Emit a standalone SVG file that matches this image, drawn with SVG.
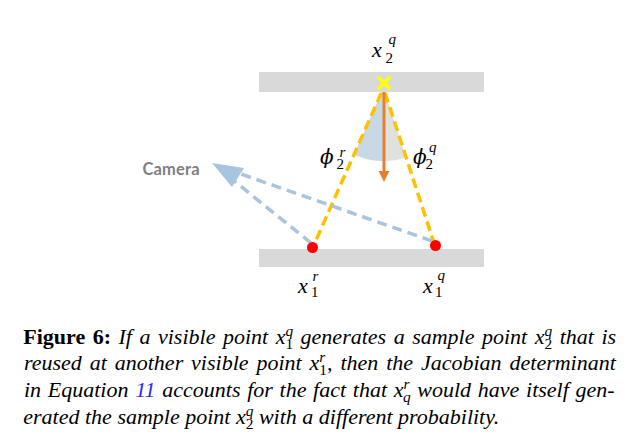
<svg xmlns="http://www.w3.org/2000/svg" width="636" height="441" viewBox="0 0 636 441">
<style>
.bar{fill:#D9D9D9}
.ylw{fill:none;stroke:#FFC000;stroke-width:3.5;stroke-dasharray:10 5}
.blu{fill:none;stroke:#A9C4DE;stroke-width:3.5;stroke-dasharray:10 6}
.m{font-family:"Liberation Serif","Times New Roman",serif;font-style:italic;fill:#000}
.mb{font-size:22px}
.ph{font-family:"DejaVu Serif",serif;font-size:20px}
.ms{font-size:15px}
.md{font-size:15px;font-style:normal}
.cap{font-family:"Liberation Serif","Times New Roman",serif;font-style:italic;font-size:22px;fill:#000}
.s{font-size:15.4px}
.d{font-size:15.4px;font-style:normal}
</style>
<rect width="636" height="441" fill="#fff"/>

<g id="angle">
<path d="M383.5 88 L354 154.7 A73 73 0 0 0 383.5 161 Z" fill="#C8D9E6"/>
<path d="M383.5 88 L383.5 161 A73 73 0 0 0 406.1 157.4 Z" fill="#DDE2DF"/>
</g>
<g id="surface-top"><rect class="bar" x="259" y="72" width="225" height="20"/></g>
<g id="surface-bottom"><rect class="bar" x="259" y="249" width="225" height="18"/></g>

<g id="connectors">
<line class="ylw" x1="381.3" y1="93" x2="313" y2="247"/>
<line class="ylw" x1="385.1" y1="93" x2="435" y2="246"/>
<line x1="384" y1="92" x2="384" y2="172" stroke="#E5802E" stroke-width="3"/>
<polygon points="378.5,171 389.5,171 384,182" fill="#E5802E"/>
<line class="blu" x1="311" y1="243" x2="233" y2="180"/>
<line class="blu" x1="432" y1="241" x2="238" y2="173"/>
<polygon points="212,163 244,168 232,187" fill="#A9C4DE"/>
</g>

<g id="sample-x2q">
<path d="M379 78 L389 88 M389 78 L379 88" stroke="#FFFF00" stroke-width="3.5" stroke-linecap="square"/>
</g>
<g id="point-x1r"><circle cx="312.5" cy="247.5" r="5.5" fill="#FF0000"/></g>
<g id="point-x1q"><circle cx="435.5" cy="245.5" r="5.5" fill="#FF0000"/></g>

<g id="camera"><text x="142.5" y="175" font-family="Lato,'Open Sans','Liberation Sans',sans-serif" font-weight="bold" font-size="16.5" fill="#7F7F7F" textLength="57">Camera</text></g>

<g id="labels">
<text class="m mb" x="372" y="57">x</text><text class="m ms" x="388.5" y="44">q</text><text class="m md" x="385.5" y="63">2</text>
<text class="m ph" x="320" y="164">ϕ</text><text class="m ms" x="339.5" y="157">r</text><text class="m md" x="336.5" y="168.5">2</text>
<text class="m ph" x="413" y="164">ϕ</text><text class="m ms" x="429" y="151.5">q</text><text class="m md" x="425.5" y="168.5">2</text>
<text class="m mb" x="298" y="293">x</text><text class="m ms" x="312.5" y="281">r</text><text class="m md" x="311" y="297">1</text>
<text class="m mb" x="423" y="293">x</text><text class="m ms" x="437.5" y="280">q</text><text class="m md" x="435" y="297">1</text>
</g>

<g id="caption">
<text class="cap" x="23.3" y="343.5" word-spacing="2"><tspan font-weight="bold" font-style="normal">Figure 6:</tspan> If a visible point x<tspan class="s" dy="-8">q</tspan><tspan class="d" dx="-7.7" dy="13">1</tspan><tspan dy="-5"> generates a sample point x</tspan><tspan class="s" dy="-8">q</tspan><tspan class="d" dx="-7.7" dy="13">2</tspan><tspan dy="-5"> that is</tspan></text>
<text class="cap" x="24" y="370" word-spacing="2.4">reused at another visible point x<tspan class="s" dy="-8">r</tspan><tspan class="d" dx="-6" dy="13">1</tspan><tspan dy="-5">, then the Jacobian determinant</tspan></text>
<text class="cap" x="24" y="397" word-spacing="1.2">in Equation <tspan fill="#2B2BE6">11</tspan> accounts for the fact that x<tspan class="s" dy="-8">r</tspan><tspan class="s" dx="-6" dy="13">q</tspan><tspan dy="-5"> would have itself gen-</tspan></text>
<text class="cap" x="23.3" y="423.5">erated the sample point x<tspan class="s" dy="-8">q</tspan><tspan class="d" dx="-7.7" dy="13">2</tspan><tspan dy="-5"> with a different probability.</tspan></text>
</g>
</svg>
